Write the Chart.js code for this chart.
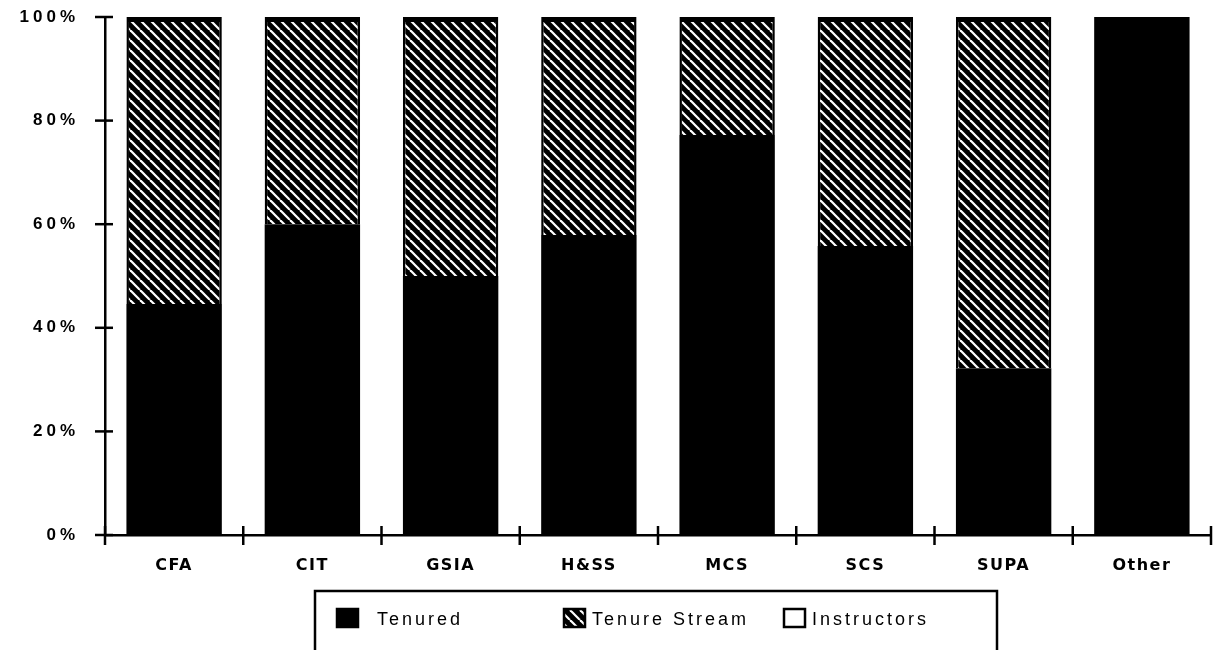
<!DOCTYPE html>
<html>
<head>
<meta charset="utf-8">
<script src="https://cdn.jsdelivr.net/npm/chart.js@4/dist/chart.umd.min.js"></script>
<style>
  html, body { margin: 0; padding: 0; background: #fff; }
  #wrap { width: 1220px; height: 650px; }
</style>
</head>
<body>
<div id="wrap"><canvas id="myChart" width="1220" height="650"></canvas></div>
<script>
// data (percent of faculty)
const categories = ["CFA", "CIT", "GSIA", "H&SS", "MCS", "SCS", "SUPA", "Other"];
const tenured = [44.6, 60.0, 50.0, 57.9, 77.2, 55.8, 32.2, 100];
const tenureStream = [55.4, 40.0, 50.0, 42.1, 22.8, 44.2, 67.8, 0];
const instructors = [0, 0, 0, 0, 0, 0, 0, 0];
const yTicks = [0, 20, 40, 60, 80, 100];
const seriesNames = ["Tenured", "Tenure Stream", "Instructors"];

const canvas = document.getElementById("myChart");
const ctx = canvas.getContext("2d");

// black with white "\" stripes
function makeHatch() {
  const c = document.createElement("canvas");
  c.width = 10;
  c.height = 10;
  const g = c.getContext("2d");
  g.fillStyle = "#000";
  g.fillRect(0, 0, 10, 10);
  g.strokeStyle = "#fff";
  g.lineWidth = 2.2;
  [-1, 0, 1].forEach((k) => {
    g.beginPath();
    g.moveTo(k * 10, 0);
    g.lineTo(k * 10 + 10, 10);
    g.stroke();
  });
  return ctx.createPattern(c, "repeat");
}
const hatch = makeHatch();
const fills = ["#000", hatch, "#fff"];
const borders = [
  0,
  { top: 5, left: 2.5, right: 2.5, bottom: 0 },
  { top: 1.5, left: 1.5, right: 1.5, bottom: 0 },
];

// wider letter spacing on axis labels, like the old plotter font
const spacing = {
  id: "spacing",
  afterLayout(chart) {
    [["x", "1.5px"], ["y", "4px"]].forEach(([id, sp]) => {
      const s = chart.scales[id];
      if (s._wrapped) return;
      const orig = s.drawLabels;
      s.drawLabels = function (area) {
        this.ctx.save();
        this.ctx.letterSpacing = sp;
        orig.call(this, area);
        this.ctx.restore();
      };
      s._wrapped = true;
    });
  },
};

// tick marks crossing both axes
const crossTicks = {
  id: "crossTicks",
  afterDatasetsDraw(chart) {
    const c = chart.ctx;
    const xs = chart.scales.x;
    const ys = chart.scales.y;
    c.save();
    c.strokeStyle = "#000";
    c.lineWidth = 2.5;
    ys.ticks.forEach((t, i) => {
      const py = ys.getPixelForTick(i);
      c.beginPath();
      c.moveTo(ys.right - 10, py);
      c.lineTo(ys.right + 8, py);
      c.stroke();
    });
    const n = categories.length;
    for (let i = 0; i <= n; i++) {
      const px = xs.left + (i * xs.width) / n;
      c.beginPath();
      c.moveTo(px, xs.top - 9);
      c.lineTo(px, xs.top + 10);
      c.stroke();
    }
    c.restore();
  },
};

// boxed legend under the axis
const boxLegend = {
  id: "boxLegend",
  afterDraw(chart) {
    const c = chart.ctx;
    c.save();
    c.strokeStyle = "#000";
    c.lineWidth = 2.5;
    c.strokeRect(315, 591, 682, 75);
    const sqX = [337, 564, 784];
    const txX = [377, 592, 812];
    c.font = "18px 'Liberation Sans', Arial, sans-serif";
    c.letterSpacing = "3px";
    c.textBaseline = "middle";
    chart.data.datasets.forEach((ds, i) => {
      c.fillStyle = ds.backgroundColor;
      c.fillRect(sqX[i], 609, 21, 18);
      c.lineWidth = 2.5;
      c.strokeRect(sqX[i], 609, 21, 18);
      c.fillStyle = "#000";
      c.fillText(ds.label, txX[i], 620);
    });
    c.restore();
  },
};

const myChart = new Chart(ctx, {
  type: "bar",
  data: {
    labels: categories,
    datasets: [
      { label: seriesNames[0], data: tenured },
      { label: seriesNames[1], data: tenureStream },
      { label: seriesNames[2], data: instructors },
    ].map((d, i) => ({
      ...d,
      backgroundColor: fills[i],
      borderColor: "#000",
      borderWidth: borders[i],
      categoryPercentage: 1,
      barPercentage: 0.69,
    })),
  },
  options: {
    responsive: false,
    animation: false,
    layout: { padding: { top: 17, right: 9, left: 0, bottom: 0 } },
    plugins: {
      legend: { display: false },
      tooltip: { enabled: false },
    },
    scales: {
      x: {
        stacked: true,
        grid: { display: true, drawOnChartArea: false, drawTicks: false },
        border: { display: true, color: "#000", width: 2.5 },
        ticks: {
          color: "#000",
          padding: 21,
          maxRotation: 0,
          font: { family: "'DejaVu Sans', sans-serif", size: 16, weight: "bold" },
        },
        afterFit(scale) {
          scale.height = 115;
          scale.paddingLeft = 0;
          scale.paddingRight = 0;
        },
      },
      y: {
        stacked: true,
        min: 0,
        max: 100,
        grid: { display: true, drawOnChartArea: false, drawTicks: false },
        border: { display: true, color: "#000", width: 2.5 },
        afterBuildTicks(scale) {
          scale.ticks = yTicks.map((v) => ({ value: v }));
        },
        ticks: {
          color: "#000",
          padding: 26,
          callback: (v) => v + "%",
          font: { family: "'Liberation Sans', Arial, sans-serif", size: 17, weight: "bold" },
        },
        afterFit(scale) {
          scale.width = 105;
          scale.paddingTop = 9;
          scale.paddingBottom = 9;
        },
      },
    },
  },
  plugins: [spacing, crossTicks, boxLegend],
});
</script>
</body>
</html>
